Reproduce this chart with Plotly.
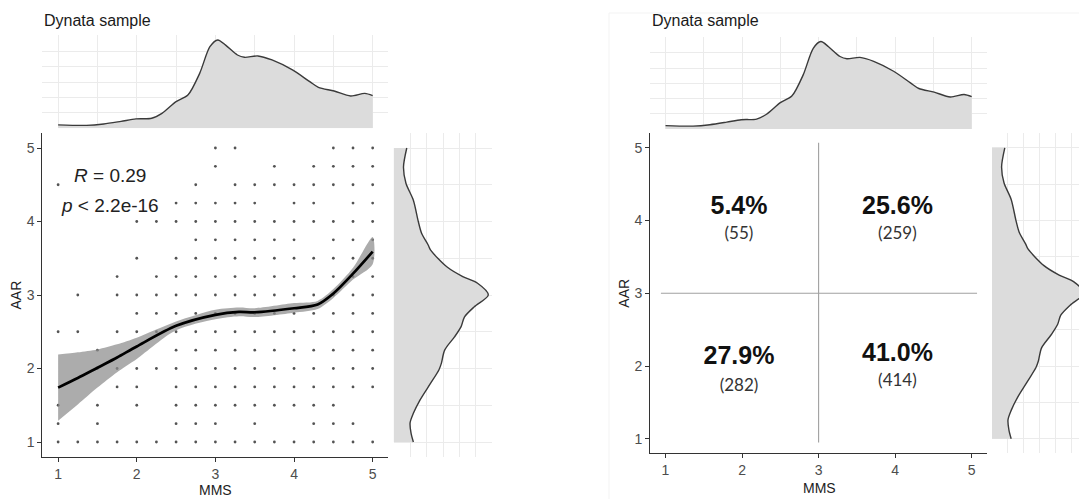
import plotly.graph_objects as go

W, H = 1079, 499

# ---------------- data ----------------
# marginal density of MMS (top panels)
mms_grid = [1.0, 1.36, 1.58, 1.80, 1.99, 2.19, 2.32, 2.50, 2.65, 2.80, 2.93, 3.03, 3.13, 3.28,
            3.37, 3.54, 3.72, 3.98, 4.20, 4.31, 4.51, 4.72, 4.90, 5.0]
mms_density = [0.022, 0.019, 0.028, 0.045, 0.061, 0.065, 0.097, 0.173, 0.216, 0.357, 0.53, 0.574,
               0.54, 0.476, 0.461, 0.47, 0.444, 0.379, 0.303, 0.266, 0.242, 0.21, 0.227, 0.212]

# marginal density of AAR (right panels)
aar_grid = [1.0, 1.12, 1.26, 1.39, 1.57, 1.8, 1.98, 2.07, 2.25, 2.43, 2.57, 2.7, 2.84, 3.0,
            3.16, 3.25, 3.38, 3.61, 3.68, 3.84, 4.0, 4.29, 4.52, 4.74, 5.0]
aar_density = [0.12, 0.106, 0.10, 0.12, 0.16, 0.225, 0.275, 0.29, 0.31, 0.37, 0.41, 0.43, 0.49,
               0.575, 0.51, 0.42, 0.325, 0.225, 0.21, 0.17, 0.15, 0.12, 0.075, 0.06, 0.08]

# observed (MMS, AAR) combinations, listed per AAR level
aar_levels = [1.0, 1.25, 1.5, 1.75, 2.0, 2.25, 2.5, 2.75, 3.0, 3.25, 3.5, 3.75, 4.0, 4.25, 4.5, 4.75, 5.0]
mms_at_level = [
    [1, 1.25, 1.5, 1.75, 2, 2.25, 2.5, 2.75, 3, 3.25, 3.5, 3.75, 4, 4.25, 4.5, 4.75, 5],
    [1, 1.5, 2.5, 2.75, 3, 3.5, 4.25, 4.5, 4.75],
    [1, 1.5, 2, 2.5, 2.75, 3, 3.25, 3.5, 3.75, 4, 4.25, 4.5],
    [1.75, 2, 2.5, 2.75, 3, 3.25, 3.5, 3.75, 4, 4.25, 4.5, 4.75, 5],
    [1.5, 1.75, 2, 2.25, 2.5, 2.75, 3, 3.25, 3.5, 3.75, 4, 4.25, 4.5, 4.75, 5],
    [1.5, 2.5, 2.75, 3, 3.25, 3.5, 3.75, 4, 4.25, 4.5, 4.75, 5],
    [1, 1.25, 1.75, 2, 2.25, 2.5, 2.75, 3, 3.25, 3.5, 3.75, 4, 4.25, 4.5, 4.75, 5],
    [2, 2.25, 2.5, 2.75, 3, 3.25, 3.5, 3.75, 4, 4.25, 4.5, 4.75, 5],
    [1.25, 1.75, 2, 2.25, 2.5, 2.75, 3, 3.25, 3.5, 3.75, 4, 4.25, 4.5, 4.75, 5],
    [1.75, 2.25, 2.5, 2.75, 3, 3.25, 3.5, 3.75, 4, 4.25, 4.5, 4.75, 5],
    [2, 2.5, 2.75, 3, 3.25, 3.5, 3.75, 4, 4.25, 4.5, 4.75, 5],
    [2.75, 3, 3.25, 3.5, 3.75, 4, 4.5, 4.75, 5],
    [2, 2.25, 2.5, 2.75, 3, 3.25, 3.5, 3.75, 4, 4.25, 4.5, 4.75, 5],
    [2.5, 2.75, 3, 3.25, 3.5, 4, 4.25, 4.75, 5],
    [1, 2.75, 3.25, 3.5, 3.75, 4, 4.25, 4.5, 4.75, 5],
    [3, 3.75, 4.25, 4.5, 4.75, 5],
    [3, 3.25, 4.5, 4.75, 5],
]

# loess fit with confidence band
smooth_mms = [1.0, 1.25, 1.5, 1.75, 2.0, 2.5, 3.0, 3.3, 3.5, 4.0, 4.3, 4.5, 4.75, 5.0]
smooth_fit = [1.74, 1.87, 2.01, 2.15, 2.30, 2.58, 2.73, 2.77, 2.765, 2.82, 2.87, 3.02, 3.29, 3.59]
smooth_upper = [2.19, 2.22, 2.26, 2.33, 2.42, 2.64, 2.80, 2.83, 2.82, 2.89, 2.92, 3.08, 3.37, 3.79]
smooth_lower = [1.29, 1.51, 1.74, 1.95, 2.13, 2.52, 2.67, 2.71, 2.70, 2.76, 2.81, 2.96, 3.21, 3.42]

cor_text = ["<i>R</i> = 0.29", "<i>p</i> < 2.2e-16"]

# quadrant split
cut_mms, cut_aar = 3.0, 3.0
quad_pct = ["5.4%", "25.6%", "27.9%", "41.0%"]
quad_n = ["(55)", "(259)", "(282)", "(414)"]

title_text = "Dynata sample"
x_title, y_title = "MMS", "AAR"
main_ticks = [1, 2, 3, 4, 5]

# ---------------- layout helpers ----------------
def px_x(p):
    return p / W

def px_y(p):
    return 1 - p / H

FONT = "Liberation Sans, Arial, sans-serif"
DENS_FILL = "#DCDCDC"
DENS_LINE = "#3a3a3a"
GRID = "#EBEBEB"

fig = go.Figure()

points_x = [m for lvl, ms in zip(aar_levels, mms_at_level) for m in ms]
points_y = [lvl for lvl, ms in zip(aar_levels, mms_at_level) for m in ms]

# ===== LEFT PANEL =====
fig.add_trace(go.Scatter(x=points_x, y=points_y, mode="markers", xaxis="x", yaxis="y",
                         marker=dict(size=2.8, color="rgba(40,40,40,0.8)"), hoverinfo="skip"))
fig.add_trace(go.Scatter(x=smooth_mms + smooth_mms[::-1], y=smooth_upper + smooth_lower[::-1],
                         mode="lines", fill="toself", fillcolor="rgba(140,140,140,0.72)",
                         line=dict(width=0, shape="spline", smoothing=0.8),
                         xaxis="x", yaxis="y", hoverinfo="skip"))
fig.add_trace(go.Scatter(x=smooth_mms, y=smooth_fit, mode="lines",
                         line=dict(color="black", width=2.7, shape="spline", smoothing=0.8),
                         xaxis="x", yaxis="y", hoverinfo="skip"))

# top marginal (left)
fig.add_trace(go.Scatter(x=mms_grid, y=mms_density, mode="lines", fill="tozeroy",
                         fillcolor=DENS_FILL, line=dict(color=DENS_LINE, width=1.4, shape="spline", smoothing=0.8),
                         xaxis="x2", yaxis="y2", hoverinfo="skip"))
# right marginal (left)
fig.add_trace(go.Scatter(x=aar_density, y=aar_grid, mode="lines", fill="tozerox",
                         fillcolor=DENS_FILL, line=dict(color=DENS_LINE, width=1.4, shape="spline", smoothing=0.8),
                         xaxis="x3", yaxis="y3", hoverinfo="skip"))

# ===== RIGHT PANEL =====
fig.add_trace(go.Scatter(x=[cut_mms, cut_mms], y=[0.95, 5.07], mode="lines",
                         line=dict(color="#A0A0A0", width=1.1), xaxis="x4", yaxis="y4", hoverinfo="skip"))
fig.add_trace(go.Scatter(x=[0.94, 5.07], y=[cut_aar, cut_aar], mode="lines",
                         line=dict(color="#A0A0A0", width=1.1), xaxis="x4", yaxis="y4", hoverinfo="skip"))

pct_x = [1.96, 4.03, 1.96, 4.03]
pct_y = [4.17, 4.17, 2.11, 2.16]
n_y = [3.81, 3.81, 1.72, 1.78]
fig.add_trace(go.Scatter(x=pct_x, y=pct_y, mode="text", text=[f"<b>{t}</b>" for t in quad_pct],
                         textfont=dict(family=FONT, size=25, color="#111111"),
                         xaxis="x4", yaxis="y4", hoverinfo="skip"))
fig.add_trace(go.Scatter(x=pct_x, y=n_y, mode="text", text=quad_n,
                         textfont=dict(family="Lato, Open Sans, sans-serif", size=17, color="#333333"),
                         xaxis="x4", yaxis="y4", hoverinfo="skip"))

fig.add_trace(go.Scatter(x=mms_grid, y=mms_density, mode="lines", fill="tozeroy",
                         fillcolor=DENS_FILL, line=dict(color=DENS_LINE, width=1.4, shape="spline", smoothing=0.8),
                         xaxis="x5", yaxis="y5", hoverinfo="skip"))
fig.add_trace(go.Scatter(x=aar_density, y=aar_grid, mode="lines", fill="tozerox",
                         fillcolor=DENS_FILL, line=dict(color=DENS_LINE, width=1.4, shape="spline", smoothing=0.8),
                         xaxis="x6", yaxis="y6", hoverinfo="skip"))

# ---------------- axes ----------------
def main_axis(domain, anchor):
    return dict(domain=domain, anchor=anchor, range=[0.8, 5.2], tickvals=main_ticks,
                showgrid=False, zeroline=False, showline=True, linecolor="#333333", linewidth=1.3,
                ticks="outside", ticklen=4, tickwidth=1, tickcolor="#333333",
                tickfont=dict(family=FONT, size=14, color="#4D4D4D"), fixedrange=True)

def marg(domain, anchor, rng, tv):
    return dict(domain=domain, anchor=anchor, range=rng, tickvals=tv, showticklabels=False,
                showgrid=True, gridcolor=GRID, gridwidth=1, zeroline=False, showline=False,
                ticks="", fixedrange=True)

half = [1, 1.5, 2, 2.5, 3, 3.5, 4, 4.5, 5]
dens_ticks = [0, 0.1, 0.2, 0.3, 0.4, 0.5]
dens_ticks_x = [0, 0.1, 0.2, 0.3, 0.4, 0.5, 0.6]

L_x = [px_x(42.4), px_x(388.4)]
L_y = [px_y(456.7), px_y(133.3)]
L_top_y = [px_y(128.3), px_y(35)]
L_right_x = [px_x(393.6), px_x(492.4)]

R_x = [px_x(650.2), px_x(987)]
R_y = [px_y(453.3), px_y(133.3)]
R_top_y = [px_y(129), px_y(36.7)]
R_right_x = [px_x(992), 1.0]

fig.update_layout(
    width=W, height=H, margin=dict(l=0, r=0, t=0, b=0),
    paper_bgcolor="white", plot_bgcolor="white", showlegend=False,
    xaxis=main_axis(L_x, "y"), yaxis=main_axis(L_y, "x"),
    xaxis2=marg(L_x, "y2", [0.8, 5.2], half), yaxis2=marg(L_top_y, "x2", [0, 0.606], dens_ticks),
    xaxis3=marg(L_right_x, "y3", [0, 0.6], dens_ticks_x), yaxis3=marg(L_y, "x3", [0.8, 5.2], half),
    xaxis4=main_axis(R_x, "y4"), yaxis4=main_axis(R_y, "x4"),
    xaxis5=marg(R_x, "y5", [0.8, 5.2], half), yaxis5=marg(R_top_y, "x5", [0, 0.606], dens_ticks),
    xaxis6=marg(R_right_x, "y6", [0, 0.544], dens_ticks_x), yaxis6=marg(R_y, "x6", [0.8, 5.2], half),
)

ann = []
# titles
for xp, yp in [(42.4, 20), (650.2, 20.7)]:
    ann.append(dict(text=title_text, xref="paper", yref="paper", x=px_x(xp), y=px_y(yp),
                    xanchor="left", yanchor="middle", showarrow=False,
                    font=dict(family=FONT, size=16, color="#1a1a1a")))
# axis titles
for xp, yp in [(215.4, 489.5), (819, 488)]:
    ann.append(dict(text=x_title, xref="paper", yref="paper", x=px_x(xp), y=px_y(yp),
                    xanchor="center", yanchor="middle", showarrow=False,
                    font=dict(family=FONT, size=14, color="#222222")))
for xp, yp in [(15.5, 295), (624.4, 293.3)]:
    ann.append(dict(text=y_title, xref="paper", yref="paper", x=px_x(xp), y=px_y(yp),
                    xanchor="center", yanchor="middle", showarrow=False, textangle=-90,
                    font=dict(family=FONT, size=14, color="#222222")))
# correlation text
for t, yv in zip(cor_text, [4.63, 4.22]):
    ann.append(dict(text=t, xref="x", yref="y", x=1.66, y=yv, xanchor="center", yanchor="middle",
                    showarrow=False, font=dict(family=FONT, size=19, color="#222222")))
fig.update_layout(annotations=ann)

# faint frame around the right-hand image
fig.add_shape(type="rect", xref="paper", yref="paper", x0=px_x(609), x1=1.2, y0=-0.2, y1=px_y(13),
              line=dict(color="#F3F3F3", width=1), layer="below")

fig.write_html("out.html")
